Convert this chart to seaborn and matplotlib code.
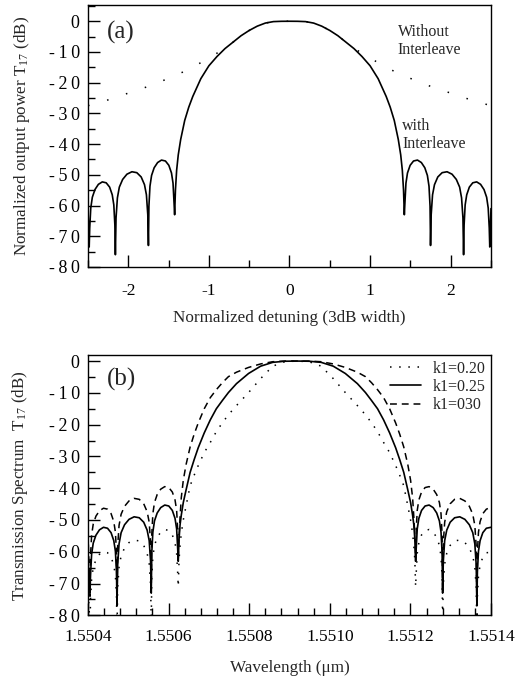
import numpy as np
import pandas as pd
import matplotlib
matplotlib.use("Agg")
import matplotlib.pyplot as plt
from matplotlib.ticker import MultipleLocator, FormatStrFormatter, FuncFormatter
import seaborn as sns

# ---------------- data: panel (a) ----------------
det_with = [-2.5, -2.485, -2.4785, -2.4655, -2.446, -2.4135, -2.371, -2.3225, -2.274, -2.2315, -2.199, -2.1795, -2.1665, -2.16,
            -2.152, -2.135, -2.111, -2.070, -2.017, -1.955, -1.894, -1.840, -1.799, -1.775, -1.758, -1.75,
            -1.744, -1.731, -1.711, -1.679, -1.636, -1.588, -1.539, -1.497, -1.464, -1.445, -1.432, -1.425,
            -1.415, -1.40, -1.38, -1.35, -1.30, -1.25, -1.20, -1.10, -1.00, -0.90, -0.80, -0.70, -0.60, -0.50,
            -0.40, -0.30, -0.20, -0.10, 0.0,
            0.10, 0.20, 0.30, 0.40, 0.50, 0.60, 0.70, 0.80, 0.90, 1.00, 1.10, 1.20, 1.25, 1.30, 1.35, 1.38, 1.40, 1.415,
            1.425, 1.432, 1.445, 1.464, 1.497, 1.539, 1.588, 1.636, 1.679, 1.711, 1.731, 1.744,
            1.75, 1.758, 1.775, 1.799, 1.840, 1.894, 1.955, 2.017, 2.070, 2.111, 2.135, 2.152,
            2.16, 2.1665, 2.1795, 2.199, 2.2315, 2.274, 2.3225, 2.371, 2.4135, 2.446, 2.4655, 2.4785, 2.485, 2.5]
db_with = [-61, -73.5, -67.3, -60.8, -57.3, -54.8, -53.1, -52.3, -52.6, -54.0, -56.5, -59.8, -66.3, -76,
           -64, -57.5, -54, -51.5, -49.8, -49.0, -49.3, -50.7, -53.2, -56.5, -63, -73,
           -60.2, -53.7, -50.2, -47.7, -46.0, -45.2, -45.5, -46.9, -49.4, -52.7, -59.2, -63,
           -55, -48.5, -43.5, -38.5, -32.3, -28.0, -24.5, -18.7, -14.5, -11.5, -8.9, -6.8, -4.7, -3.0,
           -1.6, -0.6, -0.12, -0.02, 0.0,
           -0.02, -0.12, -0.6, -1.6, -3.0, -4.7, -6.8, -8.9, -11.5, -14.5, -18.7, -24.5, -28.0, -32.3, -38.5, -43.5, -48.5, -55,
           -63, -59.2, -52.7, -49.4, -46.9, -45.5, -45.2, -46.0, -47.7, -50.2, -53.7, -60.2,
           -73, -63, -56.5, -53.2, -50.7, -49.3, -49.0, -49.8, -51.5, -54, -57.5, -64,
           -76, -66.3, -59.8, -56.5, -54.0, -52.6, -52.3, -53.1, -54.8, -57.3, -60.8, -67.3, -73.5, -61]

det_without = [-2.5, -2.25, -2.0, -1.75, -1.5, -1.25, -1.0, -0.9, -0.8, -0.7, -0.6, -0.5, -0.4, -0.3, -0.2, -0.1, 0.0,
               0.1, 0.2, 0.3, 0.4, 0.5, 0.6, 0.7, 0.8, 0.9, 1.0, 1.25, 1.5, 1.75, 2.0, 2.25, 2.5]
db_without = [-27.5, -25.6, -23.4, -21.2, -18.6, -15.7, -12.0, -10.4, -8.8, -6.8, -4.7, -3.0, -1.6, -0.6, -0.12, -0.02, 0.0,
              -0.02, -0.12, -0.6, -1.6, -3.0, -4.7, -6.8, -8.8, -10.4, -12.0, -15.7, -18.6, -21.2, -23.4, -25.6, -27.5]

# ---------------- data: panel (b) ----------------
wavelength = [1.5504000, 1.5504050, 1.5504063, 1.5504090, 1.5504130, 1.5504197, 1.5504285, 1.5504385, 1.5504485,
              1.5504573, 1.5504640, 1.5504680, 1.5504707, 1.5504720,
              1.5504737, 1.5504771, 1.5504822, 1.5504907, 1.5505018, 1.5505145, 1.5505272, 1.5505383, 1.5505468,
              1.5505519, 1.5505553, 1.5505570,
              1.5505583, 1.5505610, 1.5505650, 1.5505717, 1.5505805, 1.5505905, 1.5506005, 1.5506093, 1.5506160,
              1.5506200, 1.5506227, 1.5506240,
              1.5506260, 1.5506285, 1.5506315, 1.5506365, 1.5506435, 1.5506535, 1.5506635, 1.5506735, 1.5506885,
              1.5507035, 1.5507185, 1.5507335, 1.5507485, 1.5507685, 1.5507985, 1.5508285, 1.5508585, 1.5508885,
              1.5509185,
              1.5509485, 1.5509785, 1.5510085, 1.5510385, 1.5510685, 1.5510885, 1.5511035, 1.5511185, 1.5511335,
              1.5511485, 1.5511635, 1.5511735, 1.5511835, 1.5511935, 1.5512005, 1.5512055, 1.5512085, 1.5512110,
              1.5512130,
              1.5512143, 1.5512170, 1.5512210, 1.5512277, 1.5512365, 1.5512465, 1.5512565, 1.5512653, 1.5512720,
              1.5512760, 1.5512787, 1.5512800,
              1.5512817, 1.5512851, 1.5512902, 1.5512987, 1.5513098, 1.5513225, 1.5513352, 1.5513463, 1.5513548,
              1.5513599, 1.5513633, 1.5513650,
              1.5513663, 1.5513690, 1.5513730, 1.5513797, 1.5513885, 1.5514000]
t_k020 = [-70, -84, -75, -68.5, -65, -62.5, -60.8, -60, -60.3, -61.7, -64.2, -67.5, -74, -84,
          -71.3, -64.8, -61.3, -58.8, -57.1, -56.3, -56.6, -58.0, -60.5, -63.8, -70.3, -82,
          -68, -61.5, -58, -55.5, -53.8, -53, -53.3, -54.7, -57.2, -60.5, -67, -71,
          -62.5, -58, -54.2, -50.0, -45.5, -39.2, -35.9, -32.9, -28.8, -25.6, -22.2, -19.4, -16.9, -14.0, -9.9,
          -5.5, -1.6, -0.2, 0.0,
          -0.2, -1.6, -5.5, -9.9, -14.0, -16.9, -19.4, -22.2, -25.6, -28.8, -32.9, -35.9, -39.2, -45.5, -50.0,
          -54.2, -58, -62.5, -71,
          -67, -60.5, -57.2, -54.7, -53.3, -53, -53.8, -55.5, -58, -61.5, -68, -82,
          -70.3, -63.8, -60.5, -58.0, -56.6, -56.3, -57.1, -58.8, -61.3, -64.8, -71.3, -84,
          -74, -67.5, -64.2, -61.7, -60.3, -60.2]
t_k025 = [-62, -73, -67.3, -60.8, -57.3, -54.8, -53.1, -52.3, -52.6, -54.0, -56.5, -59.8, -66.3, -77,
          -64, -57.5, -54, -51.5, -49.8, -49.0, -49.3, -50.7, -53.2, -56.5, -63, -73,
          -60.3, -53.8, -50.3, -47.8, -46.1, -45.3, -45.6, -47.0, -49.5, -52.8, -59.3, -63,
          -56, -51.5, -48.5, -44.5, -40.5, -35.0, -31.0, -27.3, -22.6, -18.5, -15.0, -12.4, -9.9, -7.1, -3.9,
          -1.6, -0.4, -0.05, 0.0,
          -0.05, -0.4, -1.6, -3.9, -7.1, -9.9, -12.4, -15.0, -18.5, -22.6, -27.3, -31.0, -35.0, -40.5, -44.5,
          -48.5, -51.5, -56, -63,
          -59.3, -52.8, -49.5, -47.0, -45.6, -45.3, -46.1, -47.8, -50.3, -53.8, -60.3, -73,
          -63, -56.5, -53.2, -50.7, -49.3, -49.0, -49.8, -51.5, -54, -57.5, -64, -77,
          -66.3, -59.8, -56.5, -54.0, -52.6, -52.3]
t_k030 = [-54, -74, -61.3, -54.8, -51.3, -48.8, -47.1, -46.3, -46.6, -48.0, -50.5, -53.8, -60.3, -76,
          -58.2, -51.7, -48.2, -45.7, -44.0, -43.2, -43.5, -44.9, -47.4, -50.7, -57.2, -72,
          -54.5, -48.0, -44.5, -42.0, -40.3, -39.5, -39.8, -41.2, -43.7, -47.0, -53.5, -62,
          -55, -49, -43, -37.5, -32.5, -27.0, -23.0, -19.5, -15.0, -11.5, -9.0, -6.8, -4.9, -3.5, -2.0,
          -0.9, -0.2, 0.0, 0.0,
          0.0, -0.2, -0.9, -2.0, -3.5, -4.9, -6.8, -9.0, -11.5, -15.0, -19.5, -23.0, -27.0, -32.5, -37.5,
          -43, -49, -55, -62,
          -53.5, -47.0, -43.7, -41.2, -39.8, -39.5, -40.3, -42.0, -44.5, -48.0, -54.5, -72,
          -57.2, -50.7, -47.4, -44.9, -43.5, -43.2, -44.0, -45.7, -48.2, -51.7, -58.2, -76,
          -60.3, -53.8, -50.5, -48.0, -46.6, -46.0]
legend_labels = ["k1=0.20", "k1=0.25", "k1=030"]

# ---------------- style ----------------
sns.set_style("ticks")
plt.rcParams["font.family"] = ["Liberation Serif", "DejaVu Serif"]
plt.rcParams["mathtext.fontset"] = "custom"
plt.rcParams["mathtext.rm"] = "Liberation Serif"
plt.rcParams["mathtext.default"] = "regular"
plt.rcParams["axes.unicode_minus"] = False
FS_LAB = 12.3
FS_XT = 12.5
FS_YT = 13
FS_TXT = 11.5


def spaced(v, pos):
    s = "%d" % round(v)
    return "\u2009".join(s)


fig = plt.figure(figsize=(5.2, 6.8), dpi=100)
ax1 = fig.add_axes([0.1692, 0.6074, 0.775, 0.3853])
ax2 = fig.add_axes([0.1692, 0.0951, 0.775, 0.3828])

# panel (a)
sns.lineplot(x=det_without, y=db_without, ax=ax1, color="black", lw=1.1,
             linestyle=(0, (1, 12)), estimator=None, sort=False)
sns.lineplot(x=det_with, y=db_with, ax=ax1, color="black", lw=1.2, estimator=None, sort=False)
ax1.set_xlim(-2.5, 2.5)
ax1.set_ylim(-80, 5.3)
ax1.xaxis.set_major_locator(MultipleLocator(1))
ax1.xaxis.set_minor_locator(MultipleLocator(0.5))
ax1.set_xlabel("Normalized detuning (3dB width)", fontsize=FS_LAB)
ax1.set_ylabel("Normalized output power T$_{17}$ (dB)", fontsize=FS_LAB)
ax1.text(0.046, 0.94, "(a)", transform=ax1.transAxes, fontsize=18, ha="left", va="top")
ax1.text(1.345, -0.8, "Without\nInterleave", fontsize=FS_TXT, ha="left", va="top", linespacing=1.15)
ax1.text(1.40, -31.5, "with\nInterleave", fontsize=FS_TXT, ha="left", va="top", linespacing=1.15)
ax1.tick_params(axis="x", pad=11.5)

# panel (b)
sns.lineplot(x=wavelength, y=t_k020, ax=ax2, color="black", lw=1.1,
             linestyle=(0, (1, 5)), estimator=None, sort=False, label=legend_labels[0])
sns.lineplot(x=wavelength, y=t_k025, ax=ax2, color="black", lw=1.2,
             estimator=None, sort=False, label=legend_labels[1])
sns.lineplot(x=wavelength, y=t_k030, ax=ax2, color="black", lw=1.1,
             linestyle=(0, (4.5, 3.2)), estimator=None, sort=False, label=legend_labels[2])
ax2.set_xlim(1.5504, 1.5514)
ax2.set_ylim(-80, 1.9)
ax2.xaxis.set_major_locator(MultipleLocator(0.0002))
ax2.xaxis.set_minor_locator(MultipleLocator(0.00004))
ax2.xaxis.set_major_formatter(FormatStrFormatter("%.4f"))
ax2.set_xlabel("Wavelength (\u03bcm)", fontsize=FS_LAB)
ax2.set_ylabel("Transmission Spectrum  T$_{17}$ (dB)", fontsize=FS_LAB)
ax2.text(0.046, 0.95, "(b)", transform=ax2.transAxes, fontsize=18, ha="left", va="top")
ax2.tick_params(axis="x", pad=9.5)
ax2.legend(loc="upper right", frameon=False, fontsize=FS_TXT, handlelength=1.9,
           handletextpad=0.75, labelspacing=0.15, borderpad=0.1, borderaxespad=0.25)

for ax in (ax1, ax2):
    ax.yaxis.set_major_locator(MultipleLocator(10))
    ax.yaxis.set_minor_locator(MultipleLocator(5))
    ax.yaxis.set_major_formatter(FuncFormatter(spaced))
    ax.tick_params(which="both", direction="in", top=False, right=False,
                   colors="black", width=1.0)
    ax.tick_params(axis="x", labelsize=FS_XT)
    ax.tick_params(axis="y", labelsize=FS_YT, pad=6)
    ax.tick_params(which="major", length=8.5)
    ax.tick_params(which="minor", length=5)
    for s in ax.spines.values():
        s.set_visible(True)
        s.set_linewidth(1.0)
        s.set_color("black")

ax1.yaxis.set_label_coords(-0.14, 0.5)
ax2.yaxis.set_label_coords(-0.145, 0.5)
ax1.xaxis.set_label_coords(0.5, -0.165)
ax2.xaxis.set_label_coords(0.5, -0.17)

fig.savefig("out.png", dpi=100)
